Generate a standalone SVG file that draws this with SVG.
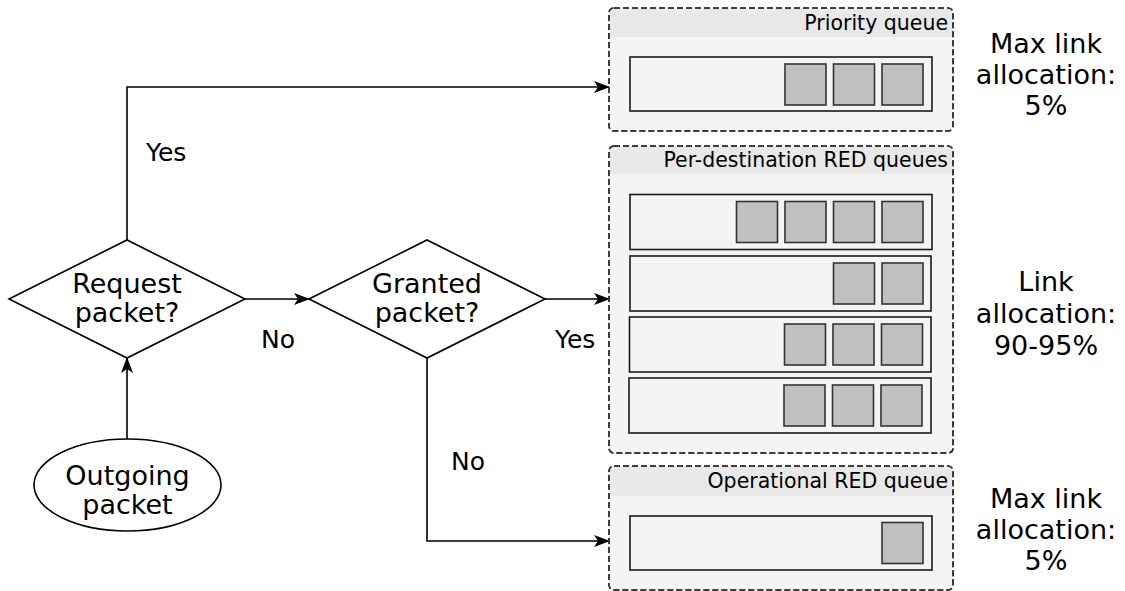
<svg xmlns="http://www.w3.org/2000/svg" width="1125" height="591" viewBox="0 0 1125 591">
<defs>
<marker id="arr" viewBox="0 0 16 12" refX="15" refY="6" markerWidth="16" markerHeight="12" markerUnits="userSpaceOnUse" orient="auto">
<path d="M0,0 L16,6 L0,12 L4,6 z" fill="#000"/>
</marker>
<style>
text{font-family:"DejaVu Sans","Liberation Sans",sans-serif;fill:#000}
.node{font-size:27px;text-anchor:middle}
.lbl{font-size:25px}
.hdr{font-size:20.5px;text-anchor:end}
.side{font-size:27px;text-anchor:middle}
.shape{fill:#fff;stroke:#000;stroke-width:1.6}
.cont{fill:#f4f4f4;stroke:#333;stroke-width:1.6;stroke-dasharray:6 3}
.hd{fill:#e8e8e8}
.bar{fill:#f4f4f4;stroke:#1a1a1a;stroke-width:1.6}
.sq{fill:#c0c0c0;stroke:#333;stroke-width:1.6}
.edge{fill:none;stroke:#000;stroke-width:1.6;marker-end:url(#arr)}
</style>
</defs>
<rect width="1125" height="591" fill="#fff"/>
<g id="connectors">
<path class="edge" d="M127,240 V87 H609"/>
<path class="edge" d="M245,299 H309"/>
<path class="edge" d="M127,439 V358"/>
<path class="edge" d="M545,299 H609"/>
<path class="edge" d="M427,358 V541 H609"/>
<text class="lbl" x="146" y="161">Yes</text>
<text class="lbl" x="261" y="348">No</text>
<text class="lbl" x="555" y="348">Yes</text>
<text class="lbl" x="451" y="470">No</text>
</g>
<g id="request">
<polygon class="shape" points="9,299 127,240 245,299 127,358"/>
<text class="node" x="127" y="293">Request</text>
<text class="node" x="127" y="322">packet?</text>
</g>
<g id="granted">
<polygon class="shape" points="309,299 427,240 545,299 427,358"/>
<text class="node" x="427" y="293">Granted</text>
<text class="node" x="427" y="322">packet?</text>
</g>
<g id="outgoing">
<ellipse class="shape" cx="127.5" cy="485" rx="93.5" ry="46"/>
<text class="node" x="127.5" y="485">Outgoing</text>
<text class="node" x="127.5" y="514">packet</text>
</g>
<g id="priority-queue">
<rect class="cont" x="609" y="8" width="344" height="123" rx="5"/>
<path class="hd" d="M610,37 V13 Q610,9 614,9 H948 Q952,9 952,13 V37 z"/>
<rect class="cont" x="609" y="8" width="344" height="123" rx="5" style="fill:none"/>
<text class="hdr" x="948" y="30">Priority queue</text>
<rect class="bar" x="630" y="57" width="302" height="54"/>
<rect class="sq" x="785" y="64" width="41" height="41"/>
<rect class="sq" x="833.5" y="64" width="41" height="41"/>
<rect class="sq" x="882" y="64" width="41" height="41"/>
</g>
<g id="per-destination-queues">
<rect class="cont" x="609" y="146" width="344" height="307" rx="5"/>
<path class="hd" d="M610,174 V151 Q610,147 614,147 H948 Q952,147 952,151 V174 z"/>
<rect class="cont" x="609" y="146" width="344" height="307" rx="5" style="fill:none"/>
<text class="hdr" x="948" y="167">Per-destination RED queues</text>
<rect class="bar" x="630" y="194.5" width="302" height="55"/>
<rect class="sq" x="736.5" y="201.5" width="41" height="41"/>
<rect class="sq" x="785" y="201.5" width="41" height="41"/>
<rect class="sq" x="833.5" y="201.5" width="41" height="41"/>
<rect class="sq" x="882" y="201.5" width="41" height="41"/>
<rect class="bar" x="630" y="256" width="301" height="55"/>
<rect class="sq" x="833.5" y="263" width="41" height="41"/>
<rect class="sq" x="882" y="263" width="41" height="41"/>
<rect class="bar" x="629.5" y="317" width="301.5" height="55"/>
<rect class="sq" x="784.5" y="324" width="41" height="41"/>
<rect class="sq" x="833" y="324" width="41" height="41"/>
<rect class="sq" x="881.5" y="324" width="41" height="41"/>
<rect class="bar" x="629" y="378" width="302" height="55"/>
<rect class="sq" x="784" y="385" width="41" height="41"/>
<rect class="sq" x="832.5" y="385" width="41" height="41"/>
<rect class="sq" x="881" y="385" width="41" height="41"/>
</g>
<g id="operational-queue">
<rect class="cont" x="609" y="466" width="344" height="124" rx="5"/>
<path class="hd" d="M610,496 V471 Q610,467 614,467 H948 Q952,467 952,471 V496 z"/>
<rect class="cont" x="609" y="466" width="344" height="124" rx="5" style="fill:none"/>
<text class="hdr" x="948" y="488">Operational RED queue</text>
<rect class="bar" x="630" y="516" width="302" height="54"/>
<rect class="sq" x="882" y="522.5" width="41" height="41"/>
</g>
<g id="label-priority">
<text class="side" x="1046" y="53">Max link</text>
<text class="side" x="1046" y="84">allocation:</text>
<text class="side" x="1046" y="115">5%</text>
</g>
<g id="label-per-destination">
<text class="side" x="1046" y="291">Link</text>
<text class="side" x="1046" y="323">allocation:</text>
<text class="side" x="1046" y="355">90-95%</text>
</g>
<g id="label-operational">
<text class="side" x="1046" y="508">Max link</text>
<text class="side" x="1046" y="539">allocation:</text>
<text class="side" x="1046" y="570">5%</text>
</g>
</svg>
